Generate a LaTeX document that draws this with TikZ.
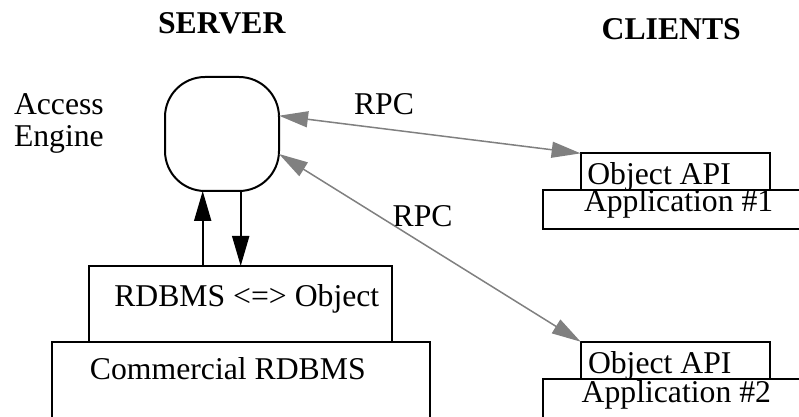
\documentclass[tikz,border=0pt]{standalone}
\usepackage{fontspec}
\setmainfont{Liberation Serif}
\usetikzlibrary{arrows.meta,calc}
\definecolor{rpcgray}{RGB}{128,128,128}
\tikzset{
  box/.style={draw, line width=1pt, rectangle, inner sep=0pt, outer sep=0pt},
  lbl/.style={anchor=base west, inner sep=0pt, outer sep=0pt, font=\fontsize{15.85}{15.85}\selectfont},
  headlbl/.style={anchor=base west, inner sep=0pt, outer sep=0pt, font=\fontsize{15.85}{15.85}\selectfont\bfseries},
  rpcline/.style={draw=rpcgray, line width=0.75pt, {Triangle[length=14.5pt,width=8pt]}-{Triangle[length=14.5pt,width=8pt]}},
  callline/.style={draw=black, line width=1pt, -{Triangle[length=15pt,width=8.5pt]}}
}
\begin{document}
\begin{tikzpicture}[x=0.5pt,y=-0.5pt]
\useasboundingbox (0,0) rectangle (799,417);
\clip (0,0) rectangle (799,417);
% boxes
\node[box, rounded corners=20pt, minimum width=57pt, minimum height=57pt] (eng) at (222,134) {};
\node[box, minimum width=189pt, minimum height=49pt] (comm) at (241,391) {};
\node[box, minimum width=151.35pt, minimum height=38pt] (map) at (240.7,304) {};
\node[box, minimum width=143.65pt, minimum height=19.35pt] (app1) at (686.3,209.35) {};
\node[box, minimum width=94.65pt, minimum height=18.35pt] (api1) at (675.3,171.7) {};
\node[box, minimum width=143.65pt, minimum height=30.35pt] (app2) at (686.3,409.65) {};
\node[box, minimum width=94.65pt, minimum height=18.8pt] (api2) at (675.3,360.5) {};
% labels
\node[headlbl] (server) at (158,33.3) {SERVER};
\node[headlbl] (clients) at (601.7,40) {CLIENTS};
\node[lbl] (access) at (14,115) {Access};
\node[lbl] (engine) at (14,146.7) {Engine};
\node[lbl] (rpc1) at (354,115) {RPC};
\node[lbl] (rpc2) at (392.7,226.6) {RPC};
\node[lbl] (maplbl) at (114.3,306.7) {RDBMS <=> Object};
\node[lbl] (commlbl) at (90,379.3) {Commercial RDBMS};
\node[lbl] (api1lbl) at (587.3,184.3) {Object API};
\node[lbl] (app1lbl) at (584,211.7) {Application \#1};
\node[lbl] (api2lbl) at (588,373.3) {Object API};
\node[lbl] (app2lbl) at (581.7,402.7) {Application \#2};
% connectors
\draw[rpcline] ($(eng.east)+(0,-18.3)$) -- (api1.north west);
\draw[rpcline] ($(eng.east)+(0,20)$) -- (api2.north west);
\draw[callline] ([xshift=-19pt]map.north) -- ([xshift=-19pt]map.north |- eng.south);
\draw[callline] (map.north |- eng.south) -- (map.north);
\end{tikzpicture}
\end{document}
